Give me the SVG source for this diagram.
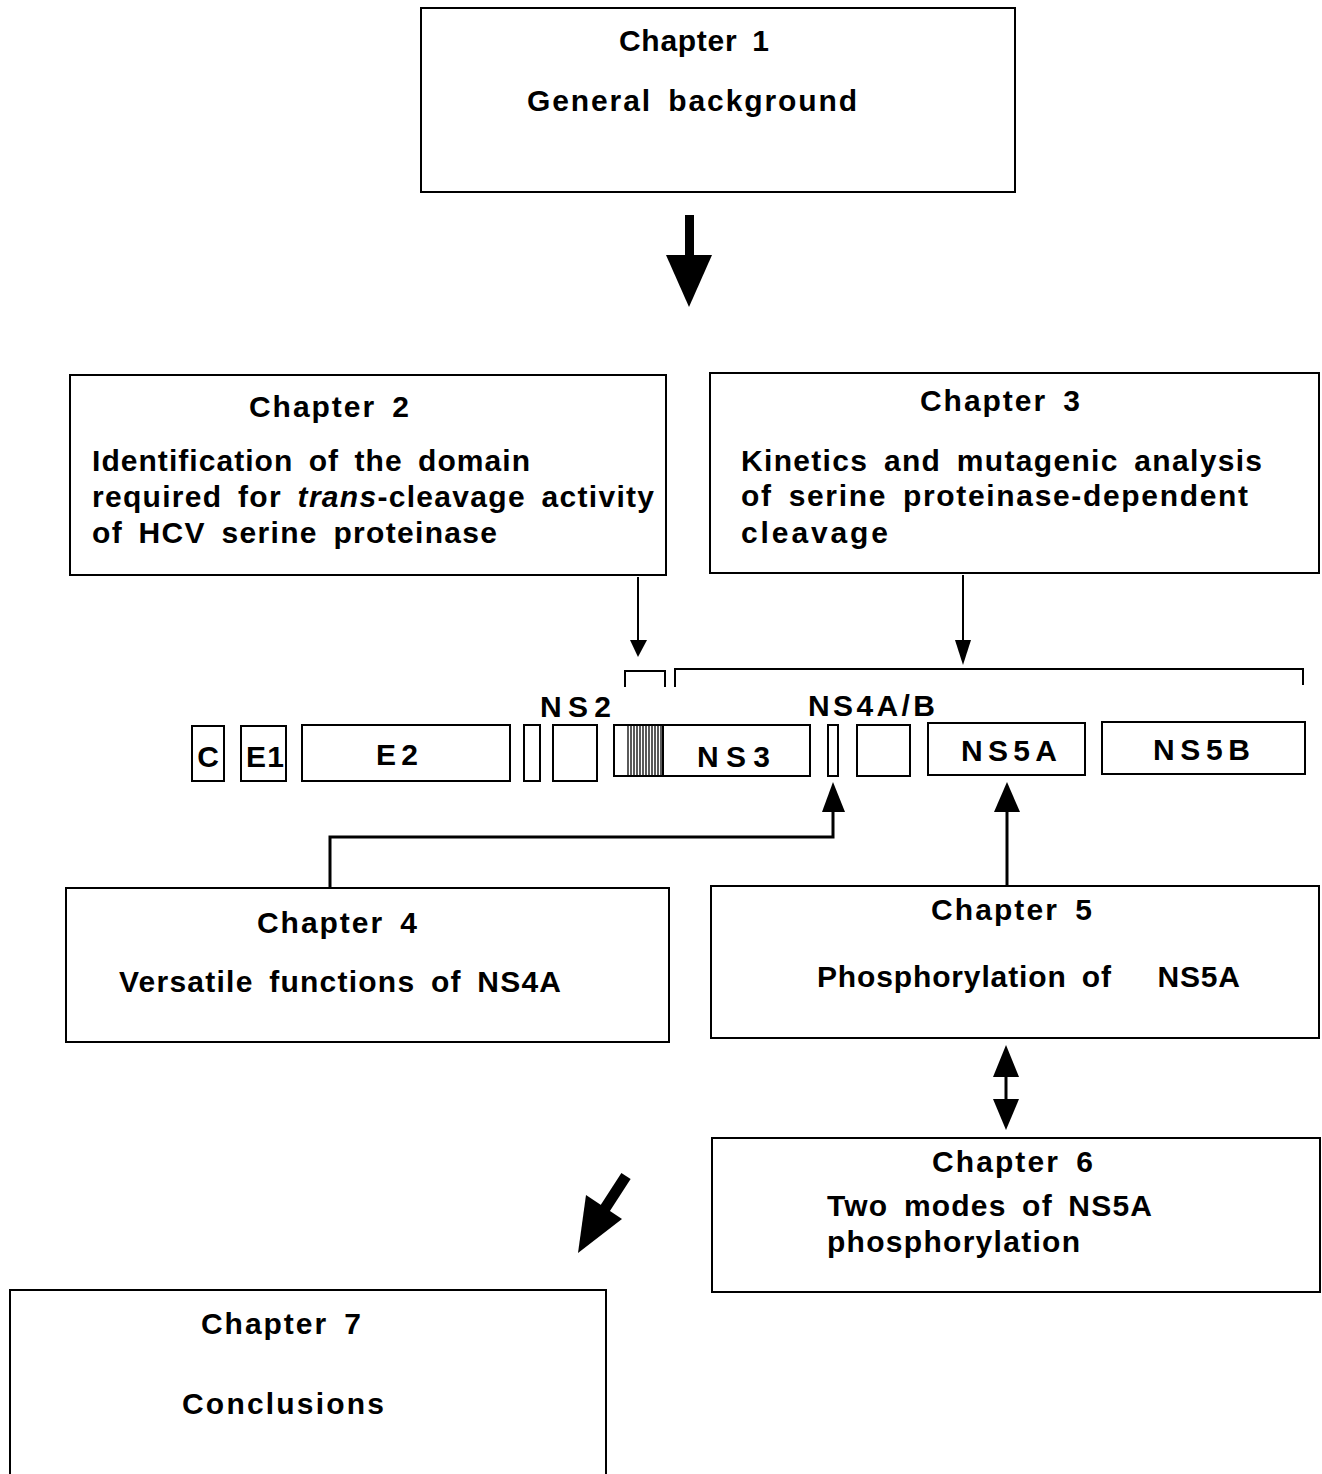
<svg xmlns="http://www.w3.org/2000/svg" width="1322" height="1474" viewBox="0 0 1322 1474">
<style>
.box{fill:#fff;stroke:#000;stroke-width:2}
.seg{fill:#fff;stroke:#000;stroke-width:2}
.t{font-family:"Liberation Sans",Arial,sans-serif;font-weight:bold;font-size:30px;word-spacing:6px;fill:#000}
.g{font-family:"Liberation Sans",Arial,sans-serif;font-weight:bold;font-size:30px;fill:#000}
.ln{fill:none;stroke:#000;stroke-width:2}
.sh{fill:none;stroke:#000;stroke-width:3}
.hd{fill:#000;stroke:none}
</style>
<rect width="1322" height="1474" fill="#fff"/>

<g id="ch1">
<rect class="box" x="421" y="8" width="594" height="184"/>
<text class="t" x="619" y="51" textLength="150" lengthAdjust="spacing">Chapter 1</text>
<text class="t" x="527" y="111" textLength="330" lengthAdjust="spacing">General background</text>
</g>

<g id="ch2">
<rect class="box" x="70" y="375" width="596" height="200"/>
<text class="t" x="249" y="417" textLength="160" lengthAdjust="spacing">Chapter 2</text>
<text class="t" x="92" y="471" textLength="438" lengthAdjust="spacing">Identification of the domain</text>
<text class="t" x="92" y="507" textLength="562" lengthAdjust="spacing">required for <tspan font-style="italic">trans</tspan>-cleavage activity</text>
<text class="t" x="92" y="543" textLength="405" lengthAdjust="spacing">of HCV serine proteinase</text>
</g>

<g id="ch3">
<rect class="box" x="710" y="373" width="609" height="200"/>
<text class="t" x="920" y="411" textLength="160" lengthAdjust="spacing">Chapter 3</text>
<text class="t" x="741" y="471" textLength="521" lengthAdjust="spacing">Kinetics and mutagenic analysis</text>
<text class="t" x="741" y="506" textLength="507" lengthAdjust="spacing">of serine proteinase-dependent</text>
<text class="t" x="741" y="543" textLength="147" lengthAdjust="spacing">cleavage</text>
</g>

<g id="genome">
<rect class="seg" x="192" y="726" width="32" height="55"/>
<text class="g" x="208" y="767" text-anchor="middle">C</text>
<rect class="seg" x="241" y="726" width="45" height="55"/>
<text class="g" x="246" y="767" textLength="38" lengthAdjust="spacing">E1</text>
<rect class="seg" x="302" y="725" width="208" height="56"/>
<text class="g" x="376" y="765" textLength="42" lengthAdjust="spacing">E2</text>
<rect class="seg" x="524" y="725" width="16" height="56"/>
<rect class="seg" x="553" y="725" width="44" height="56"/>
<text class="g" x="540" y="717" textLength="71" lengthAdjust="spacing">NS2</text>
<rect class="seg" x="614" y="725" width="196" height="51"/>
<g stroke="#000" stroke-width="1.3">
<line x1="628" y1="725" x2="628" y2="776"/><line x1="631" y1="725" x2="631" y2="776"/>
<line x1="634" y1="725" x2="634" y2="776"/><line x1="637" y1="725" x2="637" y2="776"/>
<line x1="640" y1="725" x2="640" y2="776"/><line x1="643" y1="725" x2="643" y2="776"/>
<line x1="646" y1="725" x2="646" y2="776"/><line x1="649" y1="725" x2="649" y2="776"/>
<line x1="652" y1="725" x2="652" y2="776"/><line x1="655" y1="725" x2="655" y2="776"/>
<line x1="658" y1="725" x2="658" y2="776"/><line x1="661" y1="725" x2="661" y2="776"/>
</g>
<line x1="663" y1="725" x2="663" y2="776" stroke="#000" stroke-width="2"/>
<text class="g" x="697" y="767" textLength="73" lengthAdjust="spacing">NS3</text>
<rect class="seg" x="828" y="725" width="10" height="51"/>
<rect class="seg" x="857" y="725" width="53" height="51"/>
<text class="g" x="808" y="716" textLength="127" lengthAdjust="spacing">NS4A/B</text>
<rect class="seg" x="928" y="723" width="157" height="52"/>
<text class="g" x="961" y="761" textLength="96" lengthAdjust="spacing">NS5A</text>
<rect class="seg" x="1102" y="722" width="203" height="52"/>
<text class="g" x="1153" y="760" textLength="97" lengthAdjust="spacing">NS5B</text>
<path class="ln" d="M625,687 V671 H665 V687"/>
<path class="ln" d="M675,687 V669 H1303 V685"/>
</g>

<g id="ch4">
<rect class="box" x="66" y="888" width="603" height="154"/>
<text class="t" x="257" y="933" textLength="160" lengthAdjust="spacing">Chapter 4</text>
<text class="t" x="119" y="992" textLength="442" lengthAdjust="spacing">Versatile functions of NS4A</text>
</g>

<g id="ch5">
<rect class="box" x="711" y="886" width="608" height="152"/>
<text class="t" x="931" y="920" textLength="161" lengthAdjust="spacing">Chapter 5</text>
<text class="t" x="817" y="987" textLength="423" lengthAdjust="spacing" xml:space="preserve">Phosphorylation of   NS5A</text>
</g>

<g id="ch6">
<rect class="box" x="712" y="1138" width="608" height="154"/>
<text class="t" x="932" y="1172" textLength="161" lengthAdjust="spacing">Chapter 6</text>
<text class="t" x="827" y="1216" textLength="325" lengthAdjust="spacing">Two modes of NS5A</text>
<text class="t" x="827" y="1252" textLength="253" lengthAdjust="spacing">phosphorylation</text>
</g>

<g id="ch7">
<rect class="box" x="10" y="1290" width="596" height="190"/>
<text class="t" x="201" y="1334" textLength="160" lengthAdjust="spacing">Chapter 7</text>
<text class="t" x="182" y="1414" textLength="202" lengthAdjust="spacing">Conclusions</text>
</g>

<g id="connectors">
<rect x="685" y="215" width="9" height="42" fill="#000"/>
<polygon class="hd" points="666,255 712,255 689,307"/>
<line class="ln" x1="638" y1="577" x2="638" y2="642"/>
<polygon class="hd" points="630,640 647,640 638,657"/>
<line class="ln" x1="963" y1="575" x2="963" y2="642"/>
<polygon class="hd" points="955,640 971,640 963,665"/>
<polyline class="sh" points="330,888 330,837 833,837 833,810"/>
<polygon class="hd" points="822,812 845,812 833,782"/>
<line class="sh" x1="1007" y1="886" x2="1007" y2="810"/>
<polygon class="hd" points="994,812 1020,812 1007,782"/>
<line class="sh" x1="1006" y1="1075" x2="1006" y2="1101"/>
<polygon class="hd" points="993,1077 1019,1077 1006,1045"/>
<polygon class="hd" points="993,1099 1019,1099 1006,1130"/>
<line x1="626" y1="1176" x2="604" y2="1210" stroke="#000" stroke-width="11"/>
<polygon class="hd" points="586,1195 622,1219 578,1253"/>
</g>
</svg>
